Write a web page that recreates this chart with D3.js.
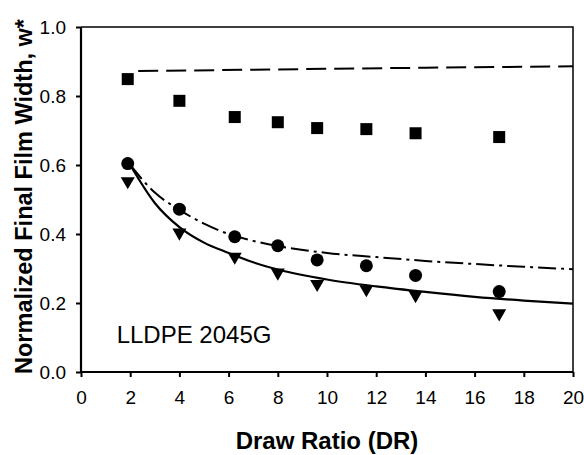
<!DOCTYPE html>
<html>
<head>
<meta charset="utf-8">
<script src="https://cdn.jsdelivr.net/npm/d3@7"></script>
<style>
  body { margin: 0; background: #fff; }
  svg text { font-family: "Liberation Sans", Arial, sans-serif; }
</style>
</head>
<body>
<div id="chart"></div>
<script>
// measured data
const drData = [1.9, 4.0, 6.25, 8.0, 9.6, 11.6, 13.6, 17.0];
const squareVals = [0.849, 0.786, 0.739, 0.724, 0.707, 0.704, 0.692, 0.681];
const circleVals = [0.604, 0.472, 0.392, 0.366, 0.325, 0.308, 0.280, 0.233];
const triangleVals = [0.553, 0.404, 0.334, 0.288, 0.255, 0.240, 0.223, 0.170];

// model curves
const dashedX = [2, 8, 14, 20];
const dashedY = [0.872, 0.877, 0.882, 0.886];
const curveX = [2, 3, 4, 5, 6, 7, 8, 10, 12, 14, 16, 18, 20];
const dashDotY = [0.600, 0.520, 0.470, 0.430, 0.400, 0.380, 0.365, 0.345, 0.333, 0.322, 0.313, 0.305, 0.298];
const solidY = [0.600, 0.490, 0.420, 0.375, 0.345, 0.318, 0.297, 0.268, 0.248, 0.232, 0.218, 0.207, 0.198];

const xTicks = [0, 2, 4, 6, 8, 10, 12, 14, 16, 18, 20];
const yTicks = [0, 0.2, 0.4, 0.6, 0.8, 1.0];

const width = 584, height = 455;
const margin = {top: 27, right: 11, bottom: 83, left: 81};
const innerW = width - margin.left - margin.right;
const innerH = height - margin.top - margin.bottom;

const svg = d3.select("#chart")
  .append("svg")
  .attr("width", width)
  .attr("height", height);

const x = d3.scaleLinear().domain([0, 20]).range([0, innerW]);
const y = d3.scaleLinear().domain([0, 1]).range([innerH, 0]);

const g = svg.append("g")
  .attr("transform", "translate(" + margin.left + "," + margin.top + ")");

// frame top/right
g.append("path")
  .attr("d", "M0,0H" + innerW + "V" + innerH)
  .attr("fill", "none")
  .attr("stroke", "#000")
  .attr("stroke-width", 1.5);

// x axis
const xAxis = g.append("g")
  .attr("transform", "translate(0," + innerH + ")")
  .call(d3.axisBottom(x).tickValues(xTicks).tickSize(5).tickPadding(14).tickFormat(d3.format("d")));
// y axis
const yAxis = g.append("g")
  .call(d3.axisLeft(y).tickValues(yTicks).tickSize(5).tickPadding(10).tickFormat(d3.format(".1f")));

[xAxis, yAxis].forEach(ax => {
  ax.select(".domain").attr("stroke-width", 2.2).attr("d", ax === xAxis ? "M0,0H" + innerW : "M0,0V" + innerH);
  ax.selectAll(".tick line").attr("stroke-width", 2);
  ax.selectAll(".tick text")
    .attr("font-size", "19px")
    .attr("fill", "#000")
    .style("font-family", "'Liberation Sans', Arial, sans-serif");
});

// lines
const line = d3.line().x(d => x(d[0])).y(d => y(d[1]));

g.append("path")
  .datum(d3.zip(dashedX, dashedY))
  .attr("d", line)
  .attr("fill", "none")
  .attr("stroke", "#000")
  .attr("stroke-width", 2)
  .attr("stroke-dasharray", "20,8")
  .attr("stroke-dashoffset", 20);

g.append("path")
  .datum(d3.zip(curveX, dashDotY))
  .attr("d", line.curve(d3.curveMonotoneX))
  .attr("fill", "none")
  .attr("stroke", "#000")
  .attr("stroke-width", 2)
  .attr("stroke-dasharray", "18,5,3,5");

g.append("path")
  .datum(d3.zip(curveX, solidY))
  .attr("d", line.curve(d3.curveMonotoneX))
  .attr("fill", "none")
  .attr("stroke", "#000")
  .attr("stroke-width", 2.2);

// markers
g.selectAll(".sq")
  .data(d3.zip(drData, squareVals))
  .enter()
  .append("rect")
  .attr("x", d => x(d[0]) - 6)
  .attr("y", d => y(d[1]) - 6)
  .attr("width", 12)
  .attr("height", 12)
  .attr("fill", "#000");

g.selectAll(".circ")
  .data(d3.zip(drData, circleVals))
  .enter()
  .append("circle")
  .attr("cx", d => x(d[0]))
  .attr("cy", d => y(d[1]))
  .attr("r", 6.5)
  .attr("fill", "#000");

const tri = d3.symbol().type(d3.symbolTriangle).size(85);
g.selectAll(".tri")
  .data(d3.zip(drData, triangleVals))
  .enter()
  .append("path")
  .attr("d", tri)
  .attr("transform", d => "translate(" + x(d[0]) + "," + y(d[1]) + ") rotate(180)")
  .attr("fill", "#000");

// label
g.append("text")
  .attr("x", x(1.45))
  .attr("y", y(0.084))
  .attr("font-size", "24px")
  .text("LLDPE 2045G");

// axis titles
svg.append("text")
  .attr("x", margin.left + innerW / 2)
  .attr("y", 449)
  .attr("text-anchor", "middle")
  .attr("font-size", "24px")
  .attr("font-weight", "bold")
  .text("Draw Ratio (DR)");

svg.append("text")
  .attr("transform", "translate(32," + (margin.top + innerH / 2 - 3) + ") rotate(-90)")
  .attr("text-anchor", "middle")
  .attr("font-size", "23.5px")
  .attr("font-weight", "bold")
  .text("Normalized Final Film Width, w*");
</script>
</body>
</html>
